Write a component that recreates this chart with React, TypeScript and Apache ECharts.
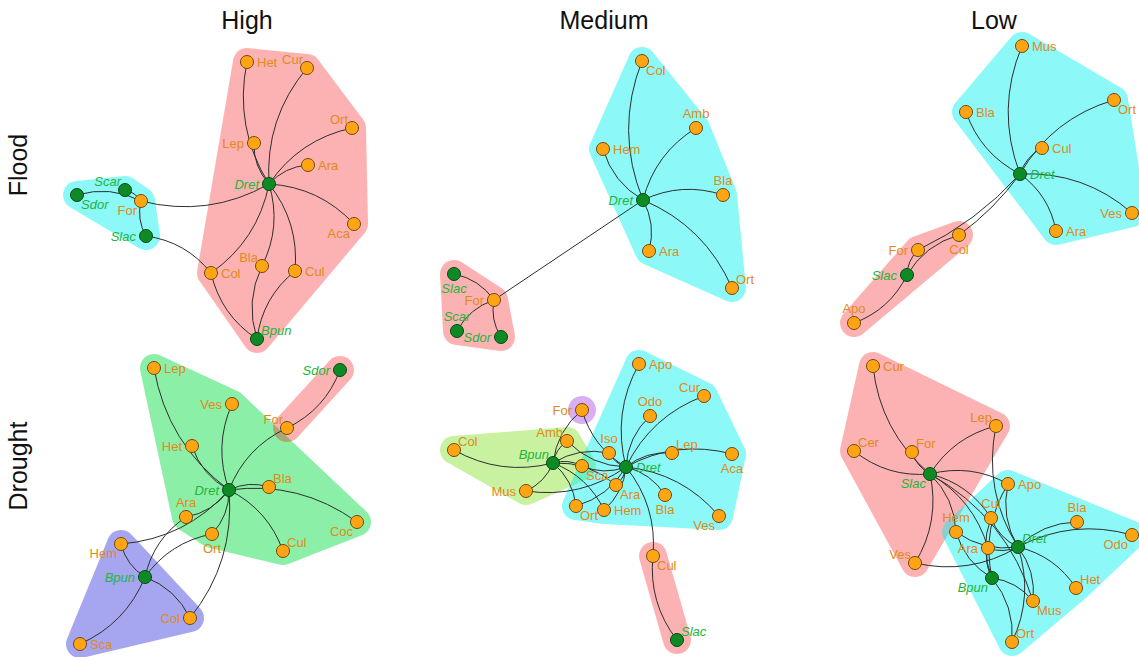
import React, { useEffect, useRef } from 'react';
import * as echarts from 'echarts';

type Node = [string, number, number];
type Link = [string, string];

// Panel layouts: node name with its position inside the panel (x right, y down)
const highFloodNodes: Node[] = [
  ['Het', 197, 32], ['Cur', 257, 38], ['Ort', 302, 98], ['Lep', 204, 113], ['Ara', 258, 135],
  ['Dret', 219, 154], ['Scar', 75, 160], ['Sdor', 27, 165], ['For', 91, 171], ['Slac', 96, 206],
  ['Aca', 304, 194], ['Bla', 212, 236], ['Col', 161, 243], ['Cul', 245, 241], ['Bpun', 207, 309],
];
const highFloodLinks: Link[] = [
  ['Dret', 'Het'], ['Dret', 'Lep'], ['Dret', 'Cur'], ['Dret', 'Ort'], ['Dret', 'Ara'], ['Dret', 'Aca'],
  ['Dret', 'For'], ['Dret', 'Col'], ['Dret', 'Bla'], ['Dret', 'Cul'], ['Bpun', 'Col'], ['Bpun', 'Bla'],
  ['Bpun', 'Cul'], ['Scar', 'For'], ['Sdor', 'For'], ['Slac', 'For'], ['Slac', 'Col'],
];
const highFloodGroups: string[][] = [
  ['Het', 'Cur', 'Ort', 'Lep', 'Ara', 'Dret', 'Aca', 'Bla', 'Col', 'Cul', 'Bpun'],
  ['Scar', 'Sdor', 'For', 'Slac'],
];

const mediumFloodNodes: Node[] = [
  ['Col', 212, 31], ['Amb', 266, 98], ['Hem', 173, 119], ['Bla', 293, 165], ['Dret', 213, 170],
  ['Ara', 219, 221], ['Ort', 302, 258], ['Slac', 24, 244], ['For', 64, 270], ['Scar', 27, 301],
  ['Sdor', 71, 307],
];
const mediumFloodLinks: Link[] = [
  ['Dret', 'Col'], ['Dret', 'Amb'], ['Dret', 'Hem'], ['Dret', 'Bla'], ['Dret', 'Ara'], ['Dret', 'Ort'],
  ['Dret', 'For'], ['Slac', 'For'], ['Scar', 'For'], ['Sdor', 'For'],
];
const mediumFloodGroups: string[][] = [
  ['Slac', 'For', 'Scar', 'Sdor'],
  ['Col', 'Amb', 'Hem', 'Bla', 'Dret', 'Ara', 'Ort'],
];

const lowFloodNodes: Node[] = [
  ['Mus', 192, 16], ['Ort', 284, 70], ['Bla', 136, 82], ['Cul', 212, 118], ['Dret', 190, 144],
  ['Ves', 302, 183], ['Ara', 226, 201], ['Col', 129, 205], ['For', 88, 220], ['Slac', 77, 245],
  ['Apo', 24, 293],
];
const lowFloodLinks: Link[] = [
  ['Dret', 'Mus'], ['Dret', 'Ort'], ['Dret', 'Bla'], ['Dret', 'Cul'], ['Dret', 'Ves'], ['Dret', 'Ara'],
  ['Dret', 'Col'], ['Dret', 'For'], ['Slac', 'Col'], ['Slac', 'For'], ['Slac', 'Apo'],
];
const lowFloodGroups: string[][] = [
  ['Col', 'For', 'Slac', 'Apo'],
  ['Mus', 'Ort', 'Bla', 'Cul', 'Dret', 'Ves', 'Ara'],
];

const highDroughtNodes: Node[] = [
  ['Lep', 104, 28], ['Sdor', 290, 30], ['Ves', 182, 64], ['For', 237, 88], ['Het', 142, 106],
  ['Dret', 179, 150], ['Bla', 219, 147], ['Ara', 136, 177], ['Coc', 307, 182], ['Ort', 162, 194],
  ['Cul', 233, 211], ['Hem', 71, 204], ['Bpun', 95, 237], ['Col', 140, 278], ['Sca', 30, 304],
];
const highDroughtLinks: Link[] = [
  ['Dret', 'Lep'], ['Dret', 'Het'], ['Dret', 'Ves'], ['Dret', 'For'], ['Dret', 'Bla'], ['Dret', 'Coc'],
  ['Dret', 'Cul'], ['Dret', 'Ort'], ['Dret', 'Ara'], ['Dret', 'Col'], ['Dret', 'Hem'], ['Bpun', 'Hem'],
  ['Bpun', 'Sca'], ['Bpun', 'Col'], ['Bpun', 'Ara'], ['Bpun', 'Ort'], ['Sdor', 'For'],
];
const highDroughtGroups: string[][] = [
  ['Lep', 'Ves', 'Het', 'Dret', 'Bla', 'Coc', 'Cul', 'Ort', 'Ara'],
  ['Sdor', 'For'],
  ['Hem', 'Bpun', 'Col', 'Sca'],
];

const mediumDroughtNodes: Node[] = [
  ['Apo', 209, 24], ['Cur', 274, 56], ['For', 152, 70], ['Odo', 220, 76], ['Col', 24, 110],
  ['Amb', 137, 101], ['Iso', 179, 113], ['Lep', 242, 113], ['Aca', 302, 114], ['Bpun', 123, 123],
  ['Dret', 196, 127], ['Sca', 152, 126], ['Ara', 186, 145], ['Mus', 96, 151], ['Bla', 235, 155],
  ['Ort', 146, 166], ['Hem', 174, 170], ['Ves', 289, 176], ['Cul', 223, 216], ['Slac', 247, 300],
];
const mediumDroughtLinks: Link[] = [
  ['Dret', 'Apo'], ['Dret', 'Cur'], ['Dret', 'Odo'], ['Dret', 'Iso'], ['Dret', 'Lep'], ['Dret', 'Aca'],
  ['Dret', 'Bla'], ['Dret', 'Ves'], ['Dret', 'Ara'], ['Dret', 'Hem'], ['Dret', 'Ort'], ['Dret', 'Sca'],
  ['Dret', 'Cul'], ['Dret', 'For'], ['Dret', 'Amb'], ['Dret', 'Mus'], ['Bpun', 'Col'], ['Bpun', 'Amb'],
  ['Bpun', 'For'], ['Bpun', 'Iso'], ['Bpun', 'Sca'], ['Bpun', 'Mus'], ['Bpun', 'Ort'], ['Bpun', 'Hem'],
  ['Bpun', 'Ara'], ['Slac', 'Cul'],
];
const mediumDroughtGroups: string[][] = [
  ['Cul', 'Slac'],
  ['Col', 'Amb', 'Bpun', 'Mus', 'Sca'],
  ['Apo', 'Cur', 'Odo', 'Iso', 'Lep', 'Aca', 'Dret', 'Ara', 'Bla', 'Ort', 'Hem', 'Ves'],
  ['For'],
];

const lowDroughtNodes: Node[] = [
  ['Cur', 43, 26], ['Lep', 166, 86], ['Cer', 24, 111], ['For', 82, 112], ['Slac', 100, 134],
  ['Apo', 178, 144], ['Cul', 161, 178], ['Bla', 247, 182], ['Hem', 126, 192], ['Odo', 302, 195],
  ['Ara', 158, 208], ['Dret', 188, 207], ['Ves', 85, 223], ['Bpun', 162, 238], ['Het', 246, 248],
  ['Mus', 203, 261], ['Ort', 182, 302],
];
const lowDroughtLinks: Link[] = [
  ['Slac', 'Cur'], ['Slac', 'For'], ['Slac', 'Cer'], ['Slac', 'Lep'], ['Slac', 'Apo'], ['Slac', 'Ves'],
  ['Slac', 'Hem'], ['Slac', 'Ara'], ['Slac', 'Cul'], ['Slac', 'Mus'], ['Dret', 'Lep'], ['Dret', 'Apo'],
  ['Dret', 'Cul'], ['Dret', 'Bla'], ['Dret', 'Odo'], ['Dret', 'Het'], ['Dret', 'Mus'], ['Dret', 'Ort'],
  ['Dret', 'Ara'], ['Dret', 'Hem'], ['Dret', 'Ves'], ['Bpun', 'Hem'], ['Bpun', 'Ara'], ['Bpun', 'Cul'],
  ['Bpun', 'Ort'], ['Bpun', 'Mus'], ['Bpun', 'Apo'],
];
const lowDroughtGroups: string[][] = [
  ['Cur', 'Lep', 'Cer', 'For', 'Slac', 'Ves'],
  ['Apo', 'Cul', 'Bla', 'Hem', 'Odo', 'Ara', 'Dret', 'Bpun', 'Het', 'Mus', 'Ort'],
];

const fishSpecies = ['Dret', 'Bpun', 'Slac', 'Scar', 'Sdor'];
const columnLabels = ['High', 'Medium', 'Low'];
const rowLabels = ['Flood', 'Drought'];

// ---- styling ----
const PINK = 'rgba(245,0,0,0.30)';
const CYAN = 'rgba(0,240,240,0.45)';
const GREEN = 'rgba(0,220,60,0.45)';
const BLUE = 'rgba(57,57,222,0.45)';
const LIME = 'rgba(118,222,17,0.40)';
const VIOLET = 'rgba(160,52,222,0.40)';

const ORANGE_TEXT = '#E08A1A';
const GREEN_TEXT = '#22B53C';
const FONT = '"Liberation Sans", Arial, Helvetica, sans-serif';

const colLeft = [50, 430, 830];
const colWidth = [330, 340, 309];
const colCenter = [247, 604, 994];
const rowTop = [30, 340];
const rowHeight = [310, 317];
const rowCenter = [165, 466];
const HULL_RADIUS = 14;
const DEFAULT_BEND = 0.2;

type Placement = 'r' | 'l' | 't' | 'b' | 'tl' | 'tr' | 'bl' | 'br';

interface Panel {
  row: number;
  col: number;
  nodes: Node[];
  links: Link[];
  groups: string[][];
  fills: string[];
  labels: Record<string, Placement>;
  bends?: Record<string, number>;
}

const panels: Panel[] = [
  {
    row: 0, col: 0, nodes: highFloodNodes, links: highFloodLinks, groups: highFloodGroups,
    fills: [PINK, CYAN],
    labels: {
      Het: 'r', Cur: 'tl', Ort: 'tl', Lep: 'l', Ara: 'r', Dret: 'l', Scar: 'tl', Sdor: 'br', For: 'bl',
      Slac: 'l', Aca: 'bl', Bla: 'tl', Col: 'r', Cul: 'r', Bpun: 'tr',
    },
  },
  {
    row: 0, col: 1, nodes: mediumFloodNodes, links: mediumFloodLinks, groups: mediumFloodGroups,
    fills: [PINK, CYAN],
    labels: {
      Col: 'br', Amb: 't', Hem: 'r', Bla: 't', Dret: 'l', Ara: 'r', Ort: 'tr', Slac: 'b', For: 'l',
      Scar: 't', Sdor: 'l',
    },
    bends: { 'Dret-For': 0 },
  },
  {
    row: 0, col: 2, nodes: lowFloodNodes, links: lowFloodLinks, groups: lowFloodGroups,
    fills: [PINK, CYAN],
    labels: {
      Mus: 'r', Ort: 'br', Bla: 'r', Cul: 'r', Dret: 'r', Ves: 'l', Ara: 'r', Col: 'b', For: 'l',
      Slac: 'l', Apo: 't',
    },
    bends: { 'Dret-Col': 0.08, 'Dret-For': 0.1 },
  },
  {
    row: 1, col: 0, nodes: highDroughtNodes, links: highDroughtLinks, groups: highDroughtGroups,
    fills: [GREEN, PINK, BLUE],
    labels: {
      Lep: 'r', Sdor: 'l', Ves: 'l', For: 'tl', Het: 'l', Dret: 'l', Bla: 'tr', Ara: 't', Coc: 'bl',
      Ort: 'b', Cul: 'tr', Hem: 'bl', Bpun: 'l', Col: 'l', Sca: 'r',
    },
  },
  {
    row: 1, col: 1, nodes: mediumDroughtNodes, links: mediumDroughtLinks, groups: mediumDroughtGroups,
    fills: [PINK, LIME, CYAN, VIOLET],
    labels: {
      Apo: 'r', Cur: 'tl', For: 'l', Odo: 't', Col: 'tr', Amb: 'tl', Iso: 't', Lep: 'tr', Aca: 'b',
      Bpun: 'tl', Dret: 'r', Sca: 'br', Ara: 'br', Mus: 'l', Bla: 'b', Ort: 'br', Hem: 'r', Ves: 'bl',
      Cul: 'br', Slac: 'tr',
    },
  },
  {
    row: 1, col: 2, nodes: lowDroughtNodes, links: lowDroughtLinks, groups: lowDroughtGroups,
    fills: [PINK, CYAN],
    labels: {
      Cur: 'r', Lep: 'tl', Cer: 'tr', For: 'tr', Slac: 'bl', Apo: 'r', Cul: 't', Bla: 't', Hem: 't',
      Odo: 'bl', Ara: 'l', Dret: 'tr', Ves: 'tl', Bpun: 'bl', Het: 'tr', Mus: 'br', Ort: 'tr',
    },
  },
];

function placementStyle(p: Placement) {
  switch (p) {
    case 'r': return { position: 'right', distance: 3, offset: [0, 0] };
    case 'l': return { position: 'left', distance: 3, offset: [0, 0] };
    case 't': return { position: 'top', distance: 1, offset: [0, 0] };
    case 'b': return { position: 'bottom', distance: 1, offset: [0, 0] };
    case 'tl': return { position: 'left', distance: 1, offset: [4, -9] };
    case 'tr': return { position: 'right', distance: 1, offset: [-4, -9] };
    case 'bl': return { position: 'left', distance: 1, offset: [4, 9] };
    case 'br': return { position: 'right', distance: 1, offset: [-4, 9] };
  }
  return { position: 'right', distance: 3, offset: [0, 0] };
}

function convexHull(points: number[][]): number[][] {
  const p = points.slice().sort((a, b) => a[0] - b[0] || a[1] - b[1]);
  const cross = (o: number[], a: number[], b: number[]) =>
    (a[0] - o[0]) * (b[1] - o[1]) - (a[1] - o[1]) * (b[0] - o[0]);
  const lower: number[][] = [];
  for (const q of p) {
    while (lower.length >= 2 && cross(lower[lower.length - 2], lower[lower.length - 1], q) <= 0) lower.pop();
    lower.push(q);
  }
  const upper: number[][] = [];
  for (let i = p.length - 1; i >= 0; i--) {
    const q = p[i];
    while (upper.length >= 2 && cross(upper[upper.length - 2], upper[upper.length - 1], q) <= 0) upper.pop();
    upper.push(q);
  }
  upper.pop();
  lower.pop();
  return lower.concat(upper);
}

function buildOption() {
  const grid: any[] = [];
  const xAxis: any[] = [];
  const yAxis: any[] = [];
  const series: any[] = [];

  panels.forEach((panel, i) => {
    const { row, col } = panel;
    grid.push({ left: colLeft[col], top: rowTop[row], width: colWidth[col], height: rowHeight[row] });
    xAxis.push({ gridIndex: i, type: 'value', min: 0, max: colWidth[col], show: false });
    yAxis.push({ gridIndex: i, type: 'value', min: 0, max: rowHeight[row], inverse: true, show: false });

    const lookup: Record<string, Node> = {};
    panel.nodes.forEach((n) => { lookup[n[0]] = n; });

    // shaded community hulls
    series.push({
      type: 'custom',
      coordinateSystem: 'cartesian2d',
      xAxisIndex: i,
      yAxisIndex: i,
      z: 1,
      silent: true,
      clip: false,
      data: panel.groups.map((_, k) => [0, 0, k]),
      renderItem: (params: any, api: any) => {
        const members = panel.groups[params.dataIndex];
        const ring: number[][] = [];
        members.forEach((name) => {
          const n = lookup[name];
          const c = api.coord([n[1], n[2]]);
          for (let s = 0; s < 32; s++) {
            const a = (s / 32) * Math.PI * 2;
            ring.push([c[0] + HULL_RADIUS * Math.cos(a), c[1] + HULL_RADIUS * Math.sin(a)]);
          }
        });
        return {
          type: 'polygon',
          shape: { points: convexHull(ring) },
          style: { fill: panel.fills[params.dataIndex], stroke: 'none' },
        };
      },
    });

    // the network itself
    series.push({
      type: 'graph',
      coordinateSystem: 'cartesian2d',
      xAxisIndex: i,
      yAxisIndex: i,
      layout: 'none',
      z: 3,
      silent: true,
      symbol: 'circle',
      symbolSize: 13,
      edgeSymbol: ['none', 'none'],
      emphasis: { disabled: true },
      lineStyle: { color: '#2e2e2e', width: 1, opacity: 1, curveness: DEFAULT_BEND },
      label: {
        show: true,
        formatter: '{b}',
        fontSize: 13,
        fontFamily: FONT,
        color: ORANGE_TEXT,
      },
      data: panel.nodes.map(([name, x, y]) => {
        const fish = fishSpecies.includes(name);
        const place = placementStyle(panel.labels[name] || 'r');
        return {
          name,
          value: [x, y],
          itemStyle: fish
            ? { color: '#0E8A24', borderColor: '#06471A', borderWidth: 1 }
            : { color: '#FFA514', borderColor: '#6B4710', borderWidth: 1 },
          label: {
            ...place,
            color: fish ? GREEN_TEXT : ORANGE_TEXT,
            fontStyle: fish ? 'italic' : 'normal',
          },
        };
      }),
      links: panel.links.map(([source, target]) => {
        const key = `${source}-${target}`;
        const bend = panel.bends && key in panel.bends ? panel.bends[key] : DEFAULT_BEND;
        return { source, target, lineStyle: { curveness: bend } };
      }),
    });
  });

  const graphic: any[] = [];
  columnLabels.forEach((text, c) => {
    graphic.push({
      type: 'text',
      x: colCenter[c],
      y: 20,
      silent: true,
      style: {
        text,
        fontSize: 25,
        fontFamily: FONT,
        fill: '#111',
        align: 'center',
        verticalAlign: 'middle',
      },
    });
  });
  rowLabels.forEach((text, r) => {
    graphic.push({
      type: 'text',
      x: 18,
      y: rowCenter[r],
      rotation: Math.PI / 2,
      silent: true,
      style: {
        text,
        fontSize: 25,
        fontFamily: FONT,
        fill: '#111',
        align: 'center',
        verticalAlign: 'middle',
      },
    });
  });

  return {
    animation: false,
    backgroundColor: '#ffffff',
    grid,
    xAxis,
    yAxis,
    series,
    graphic,
  };
}

export default function App() {
  const ref = useRef<HTMLDivElement>(null);

  useEffect(() => {
    document.body.style.margin = '0';
    if (!ref.current) return;
    const chart = echarts.init(ref.current, undefined, { renderer: 'svg' });
    chart.setOption(buildOption() as any);
    return () => {
      chart.dispose();
    };
  }, []);

  return <div ref={ref} style={{ width: 1139, height: 657, background: '#fff' }} />;
}
